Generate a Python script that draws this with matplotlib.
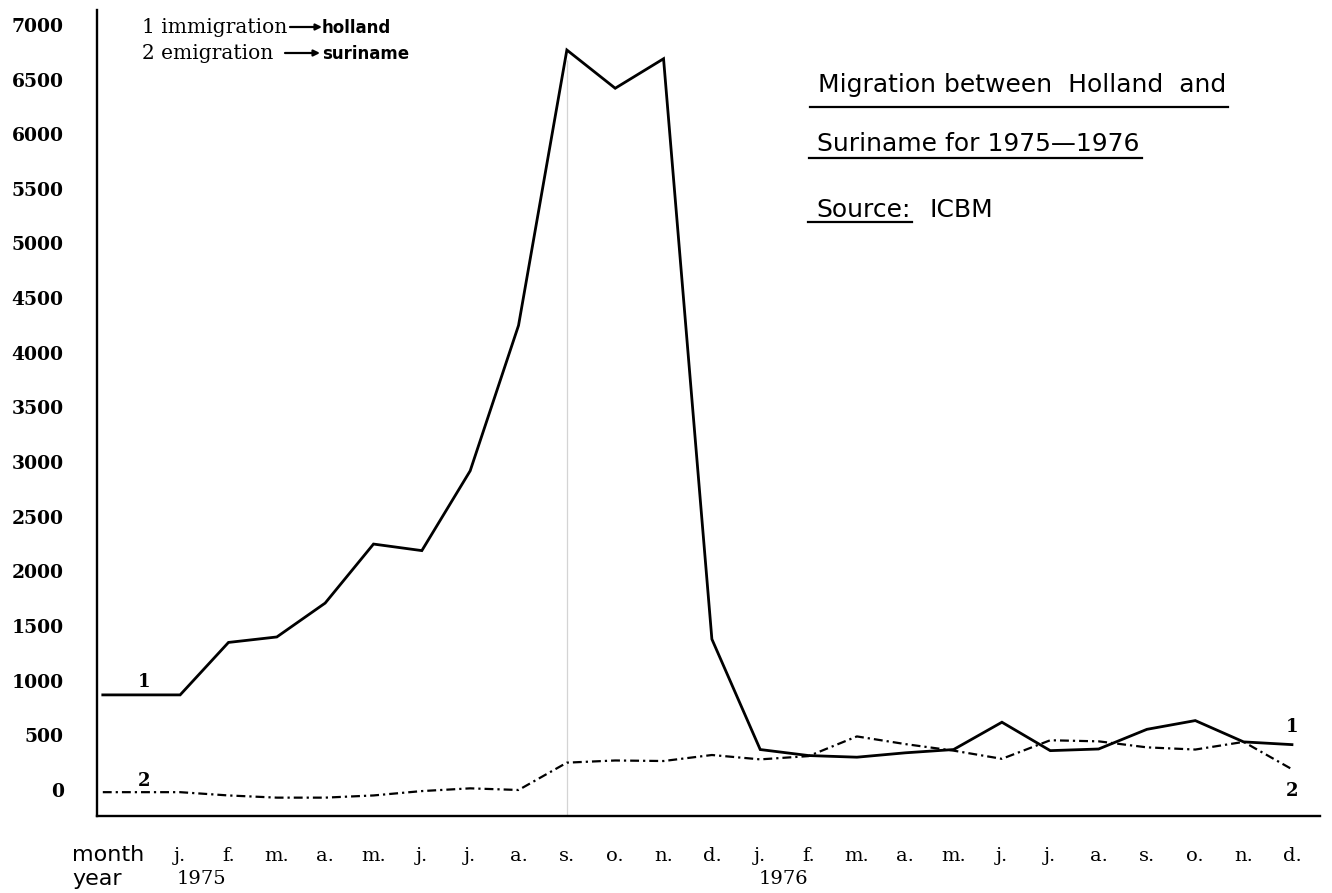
import matplotlib.pyplot as plt
from matplotlib.lines import Line2D

# month labels (1975 and 1976)
months = ["j.", "f.", "m.", "a.", "m.", "j.", "j.", "a.", "s.", "o.", "n.", "d."] * 2
years = ["1975", "1976"]

# 1 immigration -> holland, 2 emigration -> suriname
immigration = [870, 1350, 1400, 1710, 2250, 2190, 2920, 4250, 6770, 6420, 6690, 1380,
               370, 315, 300, 340, 370, 620, 360, 375, 555, 635, 440, 415]
emigration = [-20, -50, -70, -70, -50, -10, 15, 0, 250, 270, 265, 320,
              280, 310, 490, 420, 360, 285, 455, 445, 390, 370, 440, 190]

yticks = list(range(0, 7001, 500))

W, H = 1332, 893
serif = "DejaVu Serif"
sans = "DejaVu Sans"

fig = plt.figure(figsize=(W / 100, H / 100), dpi=100)
# axes box in pixels: left 97, right 1320, top 10, bottom 816
ax = fig.add_axes([97 / W, (H - 816) / H, (1320 - 97) / W, (816 - 10) / H])

x = list(range(len(months)))
stub = -1.6  # lines start a bit before january

ax.plot([stub] + x, [immigration[0]] + immigration, color="black", lw=2.0,
        solid_joinstyle="miter")
ax.plot([stub] + x, [emigration[0]] + emigration, color="black", lw=1.6,
        linestyle=(0, (4, 1.8, 1, 1.8)))

# faint fold line at september 1975
sep = months.index("s.")
ax.vlines(sep, -238, 6680, color="#d4d4d4", lw=0.9, zorder=0)

ax.set_xlim(-1.72, 23.58)
ax.set_ylim(-238, 7136)

ax.set_yticks(yticks)
ax.set_yticklabels([str(v) for v in yticks], fontfamily=serif, fontweight="bold",
                   fontsize=13.5)
ax.set_xticks(x)
ax.set_xticklabels(months, fontfamily=serif, fontsize=14)
ax.tick_params(axis="y", length=0, pad=24)
ax.tick_params(axis="x", length=0, pad=22)

for s in ["top", "right"]:
    ax.spines[s].set_visible(False)
for s in ["left", "bottom"]:
    ax.spines[s].set_linewidth(1.7)

# series numbers on the lines
ax.annotate("1", (-0.75, immigration[0]), xytext=(0, 9), textcoords="offset points",
            ha="center", va="center", fontfamily=serif, fontsize=13, fontweight="bold")
ax.annotate("2", (-0.75, emigration[0]), xytext=(0, 8), textcoords="offset points",
            ha="center", va="center", fontfamily=serif, fontsize=13, fontweight="bold")
ax.annotate("1", (x[-1], immigration[-1]), xytext=(0, 13), textcoords="offset points",
            ha="center", va="center", fontfamily=serif, fontsize=13, fontweight="bold")
ax.annotate("2", (x[-1], emigration[-1]), xytext=(0, -16), textcoords="offset points",
            ha="center", va="center", fontfamily=serif, fontsize=13, fontweight="bold")

# month / year captions under the axis
fig.text(72 / W, 1 - 855 / H, "month", fontfamily=sans, fontsize=16, va="center")
fig.text(72 / W, 1 - 879 / H, "year", fontfamily=sans, fontsize=16, va="center")
x0 = ax.transData.transform((0, 0))[0]
x12 = ax.transData.transform((12, 0))[0]
fig.text(x0 / W - 0.003, 1 - 879 / H, years[0], fontfamily=serif, fontsize=14, va="center")
fig.text(x12 / W - 0.001, 1 - 879 / H, years[1], fontfamily=serif, fontsize=14, va="center")

# key in the top left corner
fig.text(142 / W, 1 - 33 / H, "1 immigration", fontfamily=serif, fontsize=14.5, va="baseline")
fig.text(142 / W, 1 - 59 / H, "2 emigration", fontfamily=serif, fontsize=14.5, va="baseline")
fig.text(322 / W, 1 - 33 / H, "holland", fontfamily=sans, fontsize=12, fontweight="bold",
         va="baseline")
fig.text(322 / W, 1 - 59 / H, "suriname", fontfamily=sans, fontsize=12, fontweight="bold",
         va="baseline")
for (a, b, y) in [(290, 322, 27), (285, 320, 53)]:
    ax.annotate("", xy=(b, H - y), xytext=(a, H - y), xycoords="figure pixels",
                textcoords="figure pixels",
                arrowprops=dict(arrowstyle="-|>", lw=1.6, color="black", mutation_scale=9,
                                shrinkA=0, shrinkB=0))

# title block with underlines
t1 = fig.text(818 / W, 1 - 92 / H, "Migration between  Holland  and", fontfamily=sans,
              fontsize=18, va="baseline")
t2 = fig.text(817 / W, 1 - 151 / H, "Suriname for 1975\u20141976", fontfamily=sans,
              fontsize=18, va="baseline")
t3 = fig.text(816 / W, 1 - 217 / H, "Source:", fontfamily=sans, fontsize=18, va="baseline")
t4 = fig.text(930 / W, 1 - 217 / H, "ICBM", fontfamily=sans, fontsize=18, va="baseline")

fig.canvas.draw()
r = fig.canvas.get_renderer()
for t, y in [(t1, 107), (t2, 158), (t3, 222)]:
    bb = t.get_window_extent(r)
    fig.add_artist(Line2D([(bb.x0 - 8) / W, (bb.x1 + 2) / W], [1 - y / H, 1 - y / H],
                          color="black", lw=1.6, transform=fig.transFigure))

fig.savefig("out.png", dpi=100, facecolor="white")
